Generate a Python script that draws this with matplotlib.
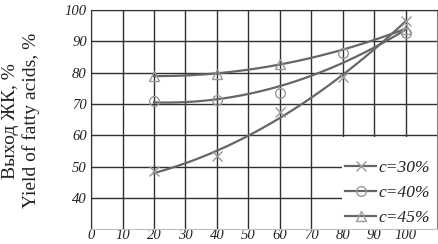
"""Yield of fatty acids vs x for three concentrations."""

import matplotlib.pyplot as plt
import numpy as np
from matplotlib.patches import Rectangle

x_vals = [20, 40, 60, 80, 100]
yield_c30 = [48.5, 53.2, 67.5, 78.5, 96.5]
yield_c40 = [71.0, 71.2, 73.5, 86.3, 92.5]
yield_c45 = [79.0, 79.5, 82.8, np.nan, 94.0]  # no marker drawn at 80
labels = ["c=30%", "c=40%", "c=45%"]
x_ticks = [0, 10, 20, 30, 40, 50, 60, 70, 80, 90, 100]
y_ticks = [40, 50, 60, 70, 80, 90, 100]

serif = "Liberation Serif"
line_color = "#666666"
marker_color = "#999999"
tick_font = {"family": serif, "style": "italic", "size": 10.5, "color": "#222222"}

fig = plt.figure(figsize=(4.38, 2.44), dpi=100)
ax = fig.add_axes([0.208, 0.061, 0.79, 0.898])

ax.set_xlim(0, 110)
ax.set_ylim(30, 100)
ax.set_xticks(x_ticks, labels=[str(v) for v in x_ticks], fontdict=tick_font)
ax.set_yticks(y_ticks, labels=[str(v) for v in y_ticks], fontdict=tick_font)
ax.grid(True, color="#303030", linewidth=1.0)
ax.set_axisbelow(True)
ax.tick_params(axis="x", length=0, pad=0)
ax.tick_params(axis="y", length=0, pad=3)
for side in ["left", "top"]:
    ax.spines[side].set_color("#303030")
ax.spines["right"].set_color("#808080")
ax.spines["bottom"].set_color("#c0c0c0")

# white area behind the legend, hides the grid there
ax.add_patch(Rectangle((0.725, 0.0), 0.275, 0.42, transform=ax.transAxes,
                       facecolor="white", edgecolor="none", zorder=1.5))

# smooth trend lines through the measured points, plus the markers
xs = np.array(x_vals, dtype=float)
xf = np.linspace(20, 100, 100)
handles = []
for ys, mk in zip([yield_c30, yield_c40, yield_c45], ["x", "o", "^"]):
    ys = np.array(ys, dtype=float)
    ok = ~np.isnan(ys)
    coef = np.polyfit(xs[ok], ys[ok], 2)
    ax.plot(xf, np.polyval(coef, xf), color=line_color, linewidth=1.6, zorder=3)
    ax.plot(xs, ys, linestyle="none", marker=mk, markersize=7,
            markerfacecolor="none", markeredgecolor=marker_color,
            markeredgewidth=1.0, zorder=4)
    h, = ax.plot([], [], color=line_color, linewidth=1.6, marker=mk,
                 markersize=7, markerfacecolor="none",
                 markeredgecolor=marker_color, markeredgewidth=1.0)
    handles.append(h)

leg = ax.legend(handles, labels, loc="lower left", bbox_to_anchor=(0.725, 0.0),
                frameon=False, handlelength=1.75, handletextpad=0.15,
                labelspacing=0.5, borderaxespad=0.0, borderpad=0.2,
                prop={"family": serif, "style": "italic", "size": 12.5})
for t in leg.get_texts():
    t.set_color("#222222")
leg.set_zorder(5)

fig.text(0.023, 0.505, "Выход ЖК, %", rotation=90, ha="center", va="center",
         family=serif, fontsize=14, color="#222222")
fig.text(0.071, 0.505, "Yield of fatty acids, %", rotation=90, ha="center",
         va="center", family=serif, fontsize=14, color="#222222")

fig.savefig("out.png", dpi=100)
